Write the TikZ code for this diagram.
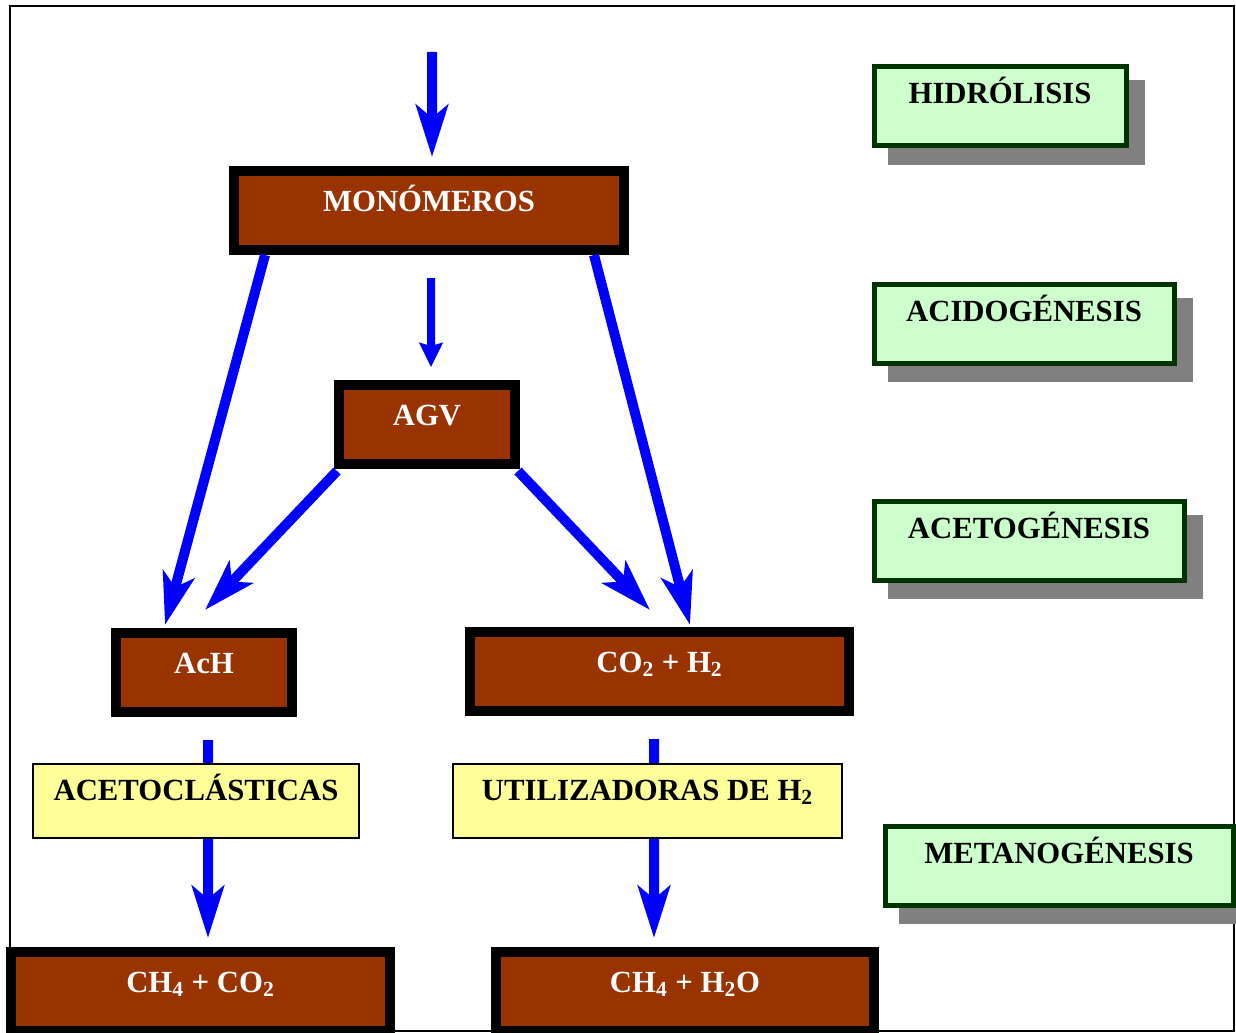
\documentclass[tikz,border=0pt]{standalone}
\usepackage{fontspec}
\setmainfont{Liberation Serif}
\usetikzlibrary{arrows.meta,shadows}
\definecolor{brownbox}{HTML}{993300}
\definecolor{greenfill}{HTML}{CCFFCC}
\definecolor{greenline}{HTML}{003300}
\definecolor{yellowbox}{HTML}{FFFF99}
\definecolor{shadowgray}{HTML}{808080}

\begin{document}
\begin{tikzpicture}[x=0.2mm,y=-0.2mm]
        \tikzstyle{product}=[rectangle,draw=black,fill=brownbox,line width=2mm,text=white,font=\fontsize{17.5}{20}\selectfont\bfseries,inner sep=0pt,text height=8mm,text depth=7.8mm,anchor=base]
        \tikzstyle{stage}=[rectangle,draw=greenline,fill=greenfill,line width=1mm,font=\fontsize{17.5}{20}\selectfont\bfseries,inner sep=0pt,text height=7.4mm,text depth=8.4mm,anchor=base,drop shadow={shadow xshift=3.2mm,shadow yshift=-3.2mm,fill=shadowgray,draw=shadowgray,line width=1mm,opacity=1}]
        \tikzstyle{microbe}=[rectangle,draw=black,fill=yellowbox,line width=0.4mm,font=\fontsize{17.5}{20}\selectfont\bfseries,inner sep=0pt,text height=7.2mm,text depth=7.6mm,anchor=base]
        \tikzstyle{flow}=[draw=blue,line width=2mm,-{Stealth[length=10.4mm,width=6.4mm,inset=2.6mm]}]

       \useasboundingbox (0,0) rectangle (1236,1032);
       \clip (0,0) rectangle (1236,1032);
       \draw[line width=0.4mm] (10,6) rectangle (1234,1031);

       % products
       \node [product,minimum width=78mm] (mono) at (429,211) {MONÓMEROS};
       \node [product,minimum width=35.2mm] (agv) at (427,425) {AGV};
       \node [product,minimum width=35.2mm] (ach) at (204,673) {AcH};
       \node [product,minimum width=75.8mm] (co2) at (659.5,672) {CO\textsubscript{2} + H\textsubscript{2}};
       \node [product,minimum width=75.8mm] (ch4co2) at (200.5,992) {CH\textsubscript{4} + CO\textsubscript{2}};
       \node [product,minimum width=75.6mm] (ch4h2o) at (685,992) {CH\textsubscript{4} + H\textsubscript{2}O};

       % stages
       \node [stage,minimum width=50.4mm] (hidro) at (1000,104) {HIDRÓLISIS};
       \node [stage,minimum width=60mm] (acido) at (1024,321) {ACIDOGÉNESIS};
       \node [stage,minimum width=62mm] (aceto) at (1029,538) {ACETOGÉNESIS};
       \node [stage,minimum width=69.6mm] (metano) at (1059,863) {METANOGÉNESIS};

       \coordinate (inflow) at (432,52);
       \draw[flow] (inflow) -- ([xshift=0.6mm,yshift=1.8mm]mono.north);
       \draw[flow,line width=1.6mm,-{Stealth[length=4.8mm,width=4.6mm,inset=0.6mm]}] ([xshift=0.4mm,yshift=-4.6mm]mono.south) -- ([xshift=0.8mm,yshift=2.6mm]agv.north);
       \draw[flow] ([xshift=7.2mm]mono.south west) -- ([xshift=10.8mm,yshift=0.6mm]ach.north west);
       \draw[flow] ([xshift=-7mm]mono.south east) -- ([xshift=6.1mm,yshift=0.4mm]co2.north);
       \draw[flow] ([xshift=0.6mm,yshift=-0.4mm]agv.south west) -- ([xshift=0.2mm,yshift=3.6mm]ach.north);
       \draw[flow] ([xshift=-0.4mm,yshift=-0.4mm]agv.south east) -- ([xshift=-1.9mm,yshift=3.4mm]co2.north);
       \draw[flow] ([xshift=0.8mm,yshift=-4.6mm]ach.south) -- ([xshift=1.5mm,yshift=1.8mm]ch4co2.north);
       \draw[flow] ([xshift=-1.1mm,yshift=-4.6mm]co2.south) -- ([xshift=-6.2mm,yshift=1.8mm]ch4h2o.north);

       % methanogens
       \node [microbe,minimum width=65.2mm] (acetocl) at (196,800) {ACETOCLÁSTICAS};
       \node [microbe,minimum width=77.8mm] (hydrog) at (647.5,800) {UTILIZADORAS DE H\textsubscript{2}};
\end{tikzpicture}
\end{document}
